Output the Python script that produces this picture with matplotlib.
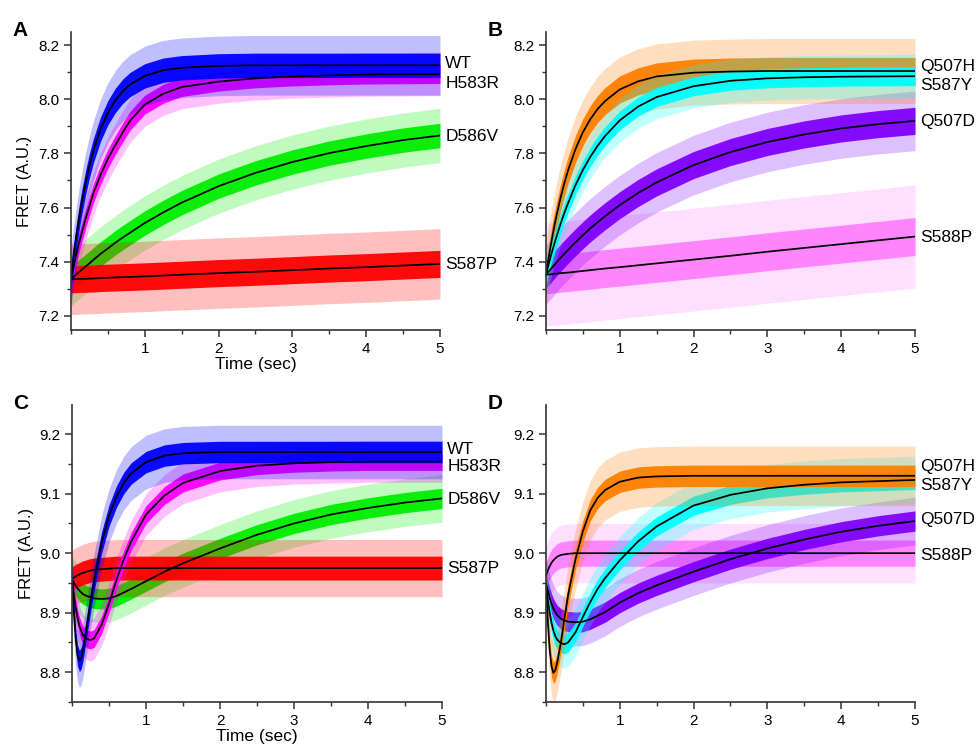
import matplotlib.pyplot as plt
from matplotlib.ticker import MultipleLocator, FixedLocator

plt.rcParams['font.family'] = ['Liberation Sans', 'DejaVu Sans']

# time points (sec) the traces were read at
t = [0, 0.025, 0.05, 0.075, 0.1, 0.125, 0.15, 0.2, 0.25, 0.3, 0.4, 0.5, 0.6, 0.7, 0.8,
     1.0, 1.25, 1.5, 2.0, 2.5, 3.0, 3.5, 4.0, 4.5, 5.0]

# panel A - fitted curves
a_wt = [7.340, 7.397, 7.449, 7.498, 7.543, 7.586, 7.624, 7.694, 7.754, 7.806, 7.889, 7.950,
        7.995, 8.029, 8.054, 8.086, 8.107, 8.116, 8.123, 8.125, 8.125, 8.125, 8.125, 8.125, 8.125]
a_h583r = [7.340, 7.370, 7.400, 7.430, 7.460, 7.485, 7.510, 7.560, 7.605, 7.650, 7.720, 7.780,
           7.830, 7.877, 7.920, 7.980, 8.020, 8.045, 8.065, 8.077, 8.084, 8.088, 8.091, 8.092, 8.093]
a_d586v = [7.335, 7.341, 7.348, 7.354, 7.360, 7.366, 7.372, 7.383, 7.394, 7.406, 7.429, 7.449,
           7.470, 7.489, 7.507, 7.543, 7.582, 7.618, 7.679, 7.728, 7.768, 7.801, 7.827, 7.849, 7.866]
a_s587p = [7.335, 7.335, 7.336, 7.336, 7.336, 7.337, 7.337, 7.337, 7.338, 7.338, 7.340, 7.341,
           7.342, 7.343, 7.344, 7.346, 7.349, 7.352, 7.358, 7.363, 7.369, 7.375, 7.380, 7.386, 7.392]

# panel B
b_q507h = [7.352, 7.396, 7.437, 7.476, 7.512, 7.547, 7.579, 7.639, 7.691, 7.738, 7.816, 7.878,
           7.926, 7.964, 7.993, 8.036, 8.066, 8.084, 8.098, 8.102, 8.104, 8.104, 8.104, 8.104, 8.104]
b_s587y = [7.352, 7.379, 7.405, 7.430, 7.454, 7.477, 7.499, 7.542, 7.581, 7.617, 7.683, 7.739,
           7.787, 7.828, 7.864, 7.922, 7.973, 8.008, 8.048, 8.068, 8.077, 8.081, 8.083, 8.084, 8.085]
b_q507d = [7.352, 7.360, 7.368, 7.376, 7.384, 7.392, 7.400, 7.415, 7.430, 7.444, 7.472, 7.498,
           7.523, 7.546, 7.568, 7.609, 7.654, 7.693, 7.757, 7.805, 7.842, 7.870, 7.892, 7.908, 7.920]
b_s588p = [7.352, 7.353, 7.353, 7.354, 7.355, 7.356, 7.356, 7.358, 7.359, 7.360, 7.363, 7.366,
           7.369, 7.372, 7.375, 7.380, 7.387, 7.394, 7.408, 7.422, 7.437, 7.451, 7.465, 7.479, 7.493]

# panel C
c_wt = [8.956, 8.900, 8.855, 8.828, 8.819, 8.824, 8.838, 8.878, 8.918, 8.955, 9.018, 9.063,
        9.095, 9.118, 9.134, 9.153, 9.164, 9.168, 9.170, 9.170, 9.170, 9.170, 9.170, 9.170, 9.170]
c_h583r = [8.956, 8.930, 8.908, 8.891, 8.878, 8.869, 8.862, 8.856, 8.854, 8.857, 8.880, 8.915,
           8.955, 8.990, 9.020, 9.065, 9.097, 9.118, 9.138, 9.147, 9.151, 9.153, 9.154, 9.154, 9.154]
c_d586v = [8.956, 8.950, 8.945, 8.941, 8.937, 8.934, 8.931, 8.928, 8.926, 8.924, 8.923, 8.924,
           8.928, 8.934, 8.940, 8.953, 8.969, 8.983, 9.008, 9.031, 9.050, 9.065, 9.076, 9.085, 9.092]
c_s587p = [8.957, 8.959, 8.961, 8.963, 8.964, 8.966, 8.967, 8.969, 8.971, 8.972, 8.973, 8.974,
           8.975, 8.975, 8.975, 8.975, 8.975, 8.975, 8.975, 8.975, 8.975, 8.975, 8.975, 8.975, 8.975]

# panel D
d_q507h = [8.950, 8.885, 8.838, 8.810, 8.799, 8.803, 8.815, 8.848, 8.890, 8.930, 8.990, 9.037,
           9.072, 9.093, 9.106, 9.120, 9.127, 9.129, 9.130, 9.130, 9.130, 9.130, 9.130, 9.130, 9.130]
d_s587y = [8.950, 8.922, 8.900, 8.883, 8.870, 8.861, 8.855, 8.849, 8.847, 8.850, 8.867, 8.893,
           8.918, 8.940, 8.958, 8.988, 9.020, 9.045, 9.080, 9.098, 9.109, 9.115, 9.119, 9.121, 9.123]
d_q507d = [8.950, 8.937, 8.925, 8.915, 8.907, 8.901, 8.896, 8.890, 8.887, 8.885, 8.884, 8.885,
           8.889, 8.895, 8.901, 8.917, 8.933, 8.946, 8.969, 8.990, 9.008, 9.023, 9.036, 9.046, 9.054]
d_s588p = [8.962, 8.971, 8.978, 8.984, 8.988, 8.991, 8.994, 8.997, 8.998, 8.999, 9.000, 9.000,
           9.000, 9.000, 9.000, 9.000, 9.000, 9.000, 9.000, 9.000, 9.000, 9.000, 9.000, 9.000, 9.000]

# noise: dense core and spike half-widths
a_core, a_spike = [0.045, 0.035, 0.045, 0.05], [0.11, 0.08, 0.10, 0.13]
b_core, b_spike = [0.05, 0.035, 0.05, 0.07], [0.12, 0.08, 0.11, 0.19]
c_core, c_spike = [0.018, 0.015, 0.017, 0.02], [0.045, 0.035, 0.04, 0.048]
d_core, d_spike = [0.018, 0.016, 0.017, 0.022], [0.05, 0.04, 0.04, 0.05]

a_names = ['WT', 'H583R', 'D586V', 'S587P']
b_names = ['Q507H', 'S587Y', 'Q507D', 'S588P']
a_colors = ['#0000ff', '#ff00ff', '#00ee00', '#ff0000']
b_colors = ['#ff7f00', '#00ffff', '#7f00ff', '#ff80ff']

# label heights at the right edge
a_label_y = [8.13, 8.058, 7.862, 7.388]
b_label_y = [8.12, 8.05, 7.916, 7.488]
c_label_y = [9.175, 9.145, 9.09, 8.975]
d_label_y = [9.145, 9.113, 9.056, 8.996]

panels = [
    ('A', [a_wt, a_h583r, a_d586v, a_s587p], a_names, a_colors, a_core, a_spike,
     a_label_y, [2, 3, 1, 0], [0.0727, 0.5588, 0.3781, 0.3984], (7.148, 8.248), 0.2, 0.1, True),
    ('B', [b_q507h, b_s587y, b_q507d, b_s588p], b_names, b_colors, b_core, b_spike,
     b_label_y, [3, 2, 0, 1], [0.5594, 0.5588, 0.3781, 0.3984], (7.148, 8.248), 0.2, 0.1, False),
    ('C', [c_wt, c_h583r, c_d586v, c_s587p], a_names, a_colors, c_core, c_spike,
     c_label_y, [2, 3, 1, 0], [0.0738, 0.0615, 0.3791, 0.3971], (8.75, 9.249), 0.1, 0.05, True),
    ('D', [d_q507h, d_s587y, d_q507d, d_s588p], b_names, b_colors, d_core, d_spike,
     d_label_y, [3, 2, 1, 0], [0.5594, 0.0615, 0.3781, 0.3971], (8.75, 9.249), 0.1, 0.05, False),
]

fig = plt.figure(figsize=(9.76, 7.48), dpi=100)

for letter, fits, names, colors, core, spike, label_y, order, box, ylim, major, minor, labels in panels:
    ax = fig.add_axes(box)
    for i in order:
        y = fits[i]
        ax.fill_between(t, [v - spike[i] for v in y], [v + spike[i] for v in y],
                        color=colors[i], alpha=0.25, lw=0)
        ax.fill_between(t, [v - core[i] for v in y], [v + core[i] for v in y],
                        color=colors[i], alpha=0.95, lw=0)
    for i in range(4):
        ax.plot(t, fits[i], color='black', lw=1.25)
        ax.text(5.07, label_y[i], names[i], fontsize=12.5, va='center', ha='left')

    ax.set_xlim(0, 5)
    ax.set_ylim(*ylim)
    ax.xaxis.set_major_locator(FixedLocator([1, 2, 3, 4, 5]))
    ax.xaxis.set_minor_locator(MultipleLocator(0.5))
    ax.yaxis.set_major_locator(MultipleLocator(major))
    ax.yaxis.set_minor_locator(MultipleLocator(minor))
    ax.spines['top'].set_visible(False)
    ax.spines['right'].set_visible(False)
    for s in ('left', 'bottom'):
        ax.spines[s].set_color('#333333')
        ax.spines[s].set_linewidth(1.2)
    ax.tick_params(which='major', length=5, width=1.1, color='#333333', labelsize=11)
    ax.tick_params(which='minor', length=3, width=1.0, color='#333333')
    ax.yaxis.set_major_formatter(plt.FuncFormatter(lambda v, p: '%.1f' % v))
    if labels:
        ax.set_xlabel('Time (sec)', fontsize=12.5, labelpad=1)
        ax.set_ylabel('FRET (A.U.)', fontsize=12)

    fig.text(box[0] - 0.06, box[1] + box[3] - 0.005, letter, fontsize=15, fontweight='bold')

fig.savefig('out.png', dpi=100)
